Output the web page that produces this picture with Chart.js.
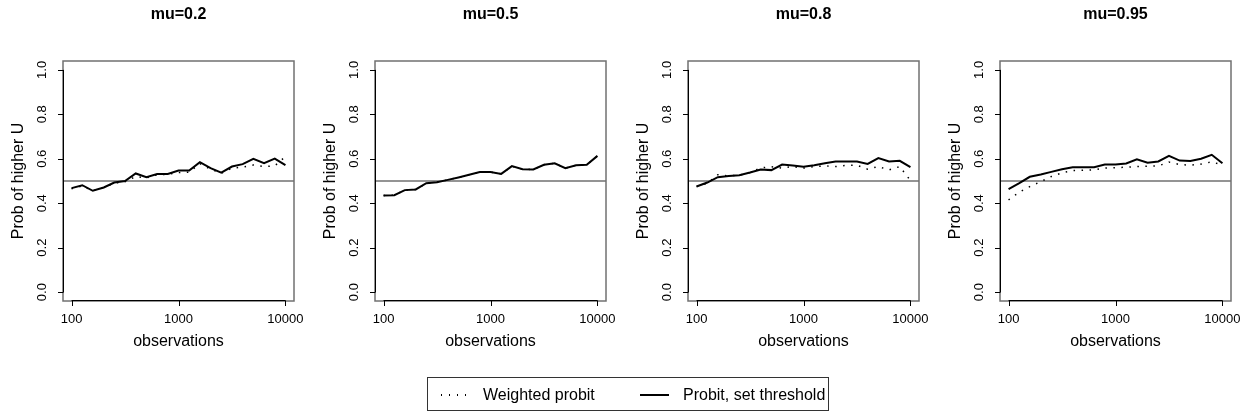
<!DOCTYPE html>
<html>
<head>
<meta charset="utf-8">
<script src="https://cdn.jsdelivr.net/npm/chart.js@4.4.1/dist/chart.umd.min.js"></script>
<style>
  body { margin: 0; background: #fff; }
  #wrap { position: relative; width: 1249px; height: 417px; overflow: hidden; font-family: "Liberation Sans", Arial, sans-serif; }
  #wrap canvas { position: absolute; top: 0; }
  #legend { position: absolute; left: 427px; top: 377px; width: 402px; height: 34px; border: 1px solid #333; box-sizing: border-box; }
  #legend .txt { position: absolute; top: 8px; font-size: 16px; color: #000; line-height: 18px; white-space: nowrap; }
  #legend .dots { position: absolute; left: 13px; top: 16px; width: 29px; height: 2px;
    background: repeating-linear-gradient(to right, #000 0 1.5px, transparent 1.5px 8px); }
  #legend .solid { position: absolute; left: 212px; top: 16px; width: 29px; height: 2px; background: #000; }
</style>
</head>
<body>
<div id="wrap">
  <canvas id="c0" width="312" height="417"></canvas>
  <canvas id="c1" width="312" height="417"></canvas>
  <canvas id="c2" width="312" height="417"></canvas>
  <canvas id="c3" width="312" height="417"></canvas>
  <div id="legend">
    <div class="dots"></div><span class="txt" style="left:55px">Weighted probit</span>
    <div class="solid"></div><span class="txt" style="left:255px">Probit, set threshold</span>
  </div>
</div>
<script>
// number of observations (log spaced, 10 per decade)
const obs = [100, 126, 158, 200, 251, 316, 398, 501, 631, 794, 1000, 1259, 1585, 1995, 2512, 3162, 3981, 5012, 6310, 7943, 10000];

const titles = ['mu=0.2', 'mu=0.5', 'mu=0.8', 'mu=0.95'];

// mu = 0.2
const weighted02  = [0.465, 0.478, 0.456, 0.471, 0.490, 0.497, 0.520, 0.514, 0.528, 0.530, 0.538, 0.540, 0.578, 0.553, 0.535, 0.558, 0.562, 0.572, 0.565, 0.568, 0.610];
const threshold02 = [0.468, 0.481, 0.456, 0.471, 0.493, 0.500, 0.534, 0.517, 0.531, 0.532, 0.547, 0.547, 0.585, 0.558, 0.538, 0.565, 0.576, 0.600, 0.580, 0.601, 0.571];
// mu = 0.5
const weighted05  = [0.435, 0.436, 0.459, 0.462, 0.489, 0.494, 0.505, 0.516, 0.528, 0.540, 0.540, 0.532, 0.566, 0.553, 0.552, 0.573, 0.580, 0.558, 0.571, 0.573, 0.612];
const threshold05 = [0.435, 0.436, 0.459, 0.462, 0.490, 0.494, 0.505, 0.516, 0.528, 0.540, 0.540, 0.532, 0.567, 0.553, 0.552, 0.573, 0.580, 0.558, 0.571, 0.573, 0.613];
// mu = 0.8
const weighted08  = [0.475, 0.490, 0.528, 0.523, 0.526, 0.538, 0.559, 0.564, 0.558, 0.565, 0.558, 0.565, 0.568, 0.565, 0.570, 0.571, 0.553, 0.565, 0.550, 0.565, 0.502];
const threshold08 = [0.475, 0.493, 0.517, 0.523, 0.526, 0.538, 0.552, 0.549, 0.574, 0.570, 0.564, 0.571, 0.580, 0.588, 0.588, 0.588, 0.577, 0.603, 0.588, 0.591, 0.562];
// mu = 0.95
const weighted095  = [0.415, 0.450, 0.475, 0.497, 0.520, 0.537, 0.547, 0.548, 0.550, 0.558, 0.560, 0.562, 0.565, 0.567, 0.568, 0.585, 0.574, 0.571, 0.576, 0.586, 0.572];
const threshold095 = [0.463, 0.490, 0.519, 0.529, 0.541, 0.553, 0.562, 0.562, 0.562, 0.574, 0.574, 0.579, 0.598, 0.582, 0.588, 0.613, 0.592, 0.590, 0.600, 0.618, 0.580];

const yTicks = [0, 0.2, 0.4, 0.6, 0.8, 1.0];
const xTicks = [100, 1000, 10000];

const panels = [
  [weighted02, threshold02],
  [weighted05, threshold05],
  [weighted08, threshold08],
  [weighted095, threshold095]
];

const FONT = '"Liberation Sans", Arial, sans-serif';

// R-style box, axes, reference line and labels
const rAxes = {
  id: 'rAxes',
  beforeDatasetsDraw(chart) {
    const ctx = chart.ctx, a = chart.chartArea, y = chart.scales.y;
    const y5 = Math.round(y.getPixelForValue(0.5));
    ctx.save();
    ctx.strokeStyle = '#707070';
    ctx.lineWidth = 1.5;
    ctx.beginPath();
    ctx.moveTo(a.left, y5);
    ctx.lineTo(a.right, y5);
    ctx.stroke();
    ctx.restore();
  },
  afterDraw(chart, args, opts) {
    const ctx = chart.ctx, a = chart.chartArea;
    const xs = chart.scales.x, ys = chart.scales.y;
    ctx.save();
    // box
    ctx.strokeStyle = '#707070';
    ctx.lineWidth = 1.5;
    ctx.strokeRect(a.left, a.top, a.right - a.left, a.bottom - a.top);

    ctx.strokeStyle = '#000';
    ctx.lineWidth = 1;
    ctx.fillStyle = '#000';

    // y axis
    const yTop = ys.getPixelForValue(1), yBot = ys.getPixelForValue(0);
    ctx.beginPath();
    ctx.moveTo(a.left + 0.5, yTop);
    ctx.lineTo(a.left + 0.5, yBot);
    yTicks.forEach(v => {
      const p = Math.round(ys.getPixelForValue(v)) + 0.5;
      ctx.moveTo(a.left + 0.5, p);
      ctx.lineTo(a.left - 5, p);
    });
    // x axis
    const xl = xs.getPixelForValue(xTicks[0]), xr = xs.getPixelForValue(xTicks[xTicks.length - 1]);
    ctx.moveTo(xl, a.bottom - 0.5);
    ctx.lineTo(xr, a.bottom - 0.5);
    xTicks.forEach(v => {
      const p = Math.round(xs.getPixelForValue(v)) + 0.5;
      ctx.moveTo(p, a.bottom - 0.5);
      ctx.lineTo(p, a.bottom + 5);
    });
    ctx.stroke();

    // tick labels
    ctx.font = '13px ' + FONT;
    ctx.textAlign = 'center';
    ctx.textBaseline = 'middle';
    xTicks.forEach(v => ctx.fillText(String(v), xs.getPixelForValue(v), a.bottom + 18));
    yTicks.forEach(v => {
      ctx.save();
      ctx.translate(a.left - 21, ys.getPixelForValue(v));
      ctx.rotate(-Math.PI / 2);
      ctx.fillText(v.toFixed(1), 0, 0);
      ctx.restore();
    });

    // axis titles
    const cx = (a.left + a.right) / 2, cy = (a.top + a.bottom) / 2;
    ctx.font = '16px ' + FONT;
    ctx.fillText('observations', cx, a.bottom + 41);
    ctx.save();
    ctx.translate(19, cy);
    ctx.rotate(-Math.PI / 2);
    ctx.fillText('Prob of higher U', 0, 0);
    ctx.restore();

    // main title
    ctx.font = 'bold 16px ' + FONT;
    ctx.fillText(opts.title, cx, 15);
    ctx.restore();
  }
};

document.addEventListener('DOMContentLoaded', function () {
  panels.forEach((series, i) => {
    const cv = document.getElementById('c' + i);
    cv.style.left = Math.round(i * 312.25) + 'px';
    new Chart(cv, {
      type: 'line',
      data: {
        labels: obs,
        datasets: [{
          label: 'Probit, set threshold',
          data: obs.map((o, k) => ({ x: o, y: series[1][k] })),
          borderColor: '#000',
          borderWidth: 2,
          pointRadius: 0,
          tension: 0
        }, {
          label: 'Weighted probit',
          data: obs.map((o, k) => ({ x: o, y: series[0][k] })),
          borderColor: '#000',
          borderWidth: 1.5,
          borderDash: [1.5, 6.5],
          pointRadius: 0,
          tension: 0
        }]
      },
      options: {
        responsive: false,
        animation: false,
        layout: { padding: { left: 63, right: 18, top: 61, bottom: 116 } },
        scales: {
          x: { type: 'logarithmic', min: Math.pow(10, 1.92), max: Math.pow(10, 4.08), display: false },
          y: { type: 'linear', min: -0.04, max: 1.04, display: false }
        },
        plugins: {
          legend: { display: false },
          tooltip: { enabled: false },
          rAxes: { title: titles[i] }
        }
      },
      plugins: [rAxes]
    });
  });
});
</script>
</body>
</html>
